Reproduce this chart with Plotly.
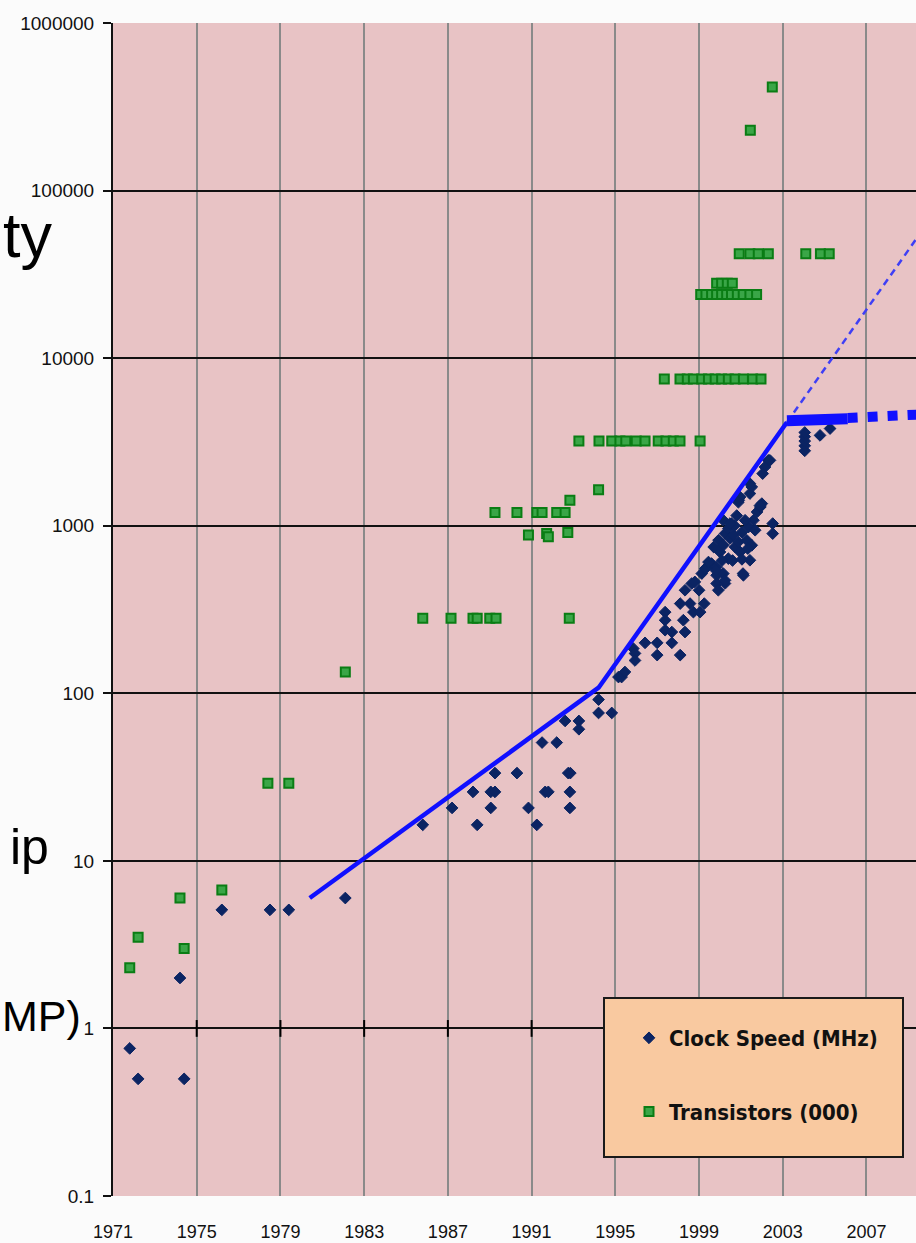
import plotly.graph_objects as go

# ---------------- data ----------------
x_tick_years = [1971, 1975, 1979, 1983, 1987, 1991, 1995, 1999, 2003, 2007]
y_tick_vals = [0.1, 1, 10, 100, 1000, 10000, 100000, 1000000]
y_tick_text = ["0.1", "1", "10", "100", "1000", "10000", "100000", "1000000"]

# Clock speed (MHz)
clock_early_year = [1971.8, 1972.2, 1974.4, 1974.2, 1976.2, 1978.5, 1979.4, 1982.1]
clock_early_mhz = [0.76, 0.5, 0.5, 2.0, 5.1, 5.1, 5.1, 6.0]

clock_mid_year = [1985.8, 1987.2, 1988.2, 1988.4, 1989.05, 1989.25, 1989.05, 1989.25,
                  1990.3, 1990.85, 1991.25, 1991.5, 1991.65, 1991.8, 1992.2, 1992.6,
                  1992.75, 1992.85, 1992.83, 1992.83, 1993.26, 1993.26, 1994.2, 1994.2,
                  1994.83]
clock_mid_mhz = [16.4, 20.7, 25.8, 16.4, 25.8, 25.8, 20.7, 33.4,
                 33.4, 20.7, 16.4, 50.8, 25.8, 25.8, 50.8, 68.4,
                 33.4, 33.4, 25.8, 20.7, 68.4, 61, 91.7, 76.3,
                 76.3]

clock_late_year = [1995.15, 1995.3, 1995.46, 1995.86, 1995.94, 1995.94, 1996.42, 1997.0,
                   1997.0, 1997.38, 1997.38, 1997.38, 1997.7, 1997.7, 1998.1, 1998.1,
                   1998.25, 1998.33, 1998.33, 1998.57, 1998.73, 1998.65, 1998.8, 1999.0,
                   1999.05, 1999.25, 1999.13, 1999.37, 1999.6, 1999.84, 1999.84, 2000.16,
                   1999.84, 1999.92, 2000.24, 1999.3, 1999.45, 1999.8, 1999.7, 1999.93,
                   2000.0, 2000.16, 2000.24, 2000.4, 2000.55, 2000.48, 2000.4, 2000.24,
                   2000.64, 2000.72, 2000.88, 2000.96, 2001.12, 2001.28, 2001.43, 2001.36,
                   2001.6, 2001.68, 2001.52, 2001.77, 2001.93, 2002.0, 2000.9, 2001.43,
                   2001.43, 2002.52, 2002.52, 2002.31, 2002.15, 2002.04, 2001.52, 2000.96,
                   2000.88, 2001.91, 2002.39, 2001.2, 2000.7, 2001.05, 2001.33, 2001.05,
                   2000.6, 2000.1, 2000.8, 2001.1, 2000.16, 2000.48]
clock_late_mhz = [125, 125, 134, 185, 173, 157, 200, 200,
                  169, 305, 273, 238, 232, 200, 169, 343,
                  273, 232, 412, 343, 305, 452, 462, 412,
                  305, 343, 518, 567, 594, 567, 506, 518,
                  452, 412, 452, 555, 607, 542, 746, 819,
                  697, 764, 897, 961, 1030, 838, 636, 472,
                  877, 746, 800, 697, 506, 819, 622, 982,
                  1078, 940, 764, 1208, 1294, 1355, 1419, 1556,
                  1784, 1030, 897, 2455, 2240, 2046, 1703, 1483,
                  1380, 1319, 2455, 1078, 1000, 915, 730, 630,
                  620, 620, 1150, 518, 1078, 1030]

clock_recent_year = [2004.05, 2004.05, 2004.05, 2004.05, 2004.05, 2004.78, 2005.26]
clock_recent_mhz = [2800, 3000, 3200, 3400, 3600, 3460, 3800]

# Transistors (000)
tr_year = [1971.8, 1972.2, 1974.2, 1974.4, 1976.2, 1978.4, 1979.4, 1982.1,
           1985.8, 1987.15, 1988.2, 1988.4, 1989.0, 1989.3, 1992.8,
           1989.25, 1990.3, 1991.25, 1991.5, 1992.2, 1992.6, 1992.83, 1994.2,
           1990.85, 1991.72, 1991.8, 1992.73,
           1993.26, 1994.22, 1994.83, 1995.22, 1995.5, 1996.0, 1996.42, 1997.05,
           1997.42, 1997.77, 1998.09, 1999.05,
           1997.34, 1998.09, 1998.44, 1998.73, 1999.13, 1999.45, 1999.77, 2000.08,
           2000.4, 2000.72, 2001.12, 2001.56, 2001.96,
           1999.08, 1999.33, 1999.6, 1999.84, 2000.08, 2000.32, 2000.55, 2000.83,
           2001.11, 2001.43, 2001.75,
           1999.84, 2000.08, 2000.35, 2000.59,
           2000.92, 2001.43, 2001.83, 2002.31, 2004.1, 2004.8, 2005.22,
           2001.45, 2002.5]
tr_thousands = [2.3, 3.5, 6.0, 3.0, 6.7, 29, 29, 134,
                280, 280, 280, 280, 280, 280, 280,
                1200, 1200, 1200, 1200, 1200, 1200, 1420, 1640,
                880, 900, 860, 910,
                3200, 3200, 3200, 3200, 3200, 3200, 3200, 3200,
                3200, 3200, 3200, 3200,
                7500, 7500, 7500, 7500, 7500, 7500, 7500, 7500,
                7500, 7500, 7500, 7500, 7500,
                24000, 24000, 24000, 24000, 24000, 24000, 24000, 24000,
                24000, 24000, 24000,
                28000, 28000, 28000, 28000,
                42000, 42000, 42000, 42000, 42000, 42000, 42000,
                229000, 415000]

# Clock-speed trend lines
trend_year = [1980.4, 1994.2, 2003.2]
trend_mhz = [6.0, 108, 4140]
flat_year = [2003.2, 2006.1]
flat_mhz = [4230, 4350]
flat_proj_year = [2006.1, 2009.4]
flat_proj_mhz = [4400, 4600]
exp_proj_year = [2003.2, 2009.4]
exp_proj_mhz = [4140, 51900]

clock_year = clock_early_year + clock_mid_year + clock_late_year + clock_recent_year
clock_mhz = clock_early_mhz + clock_mid_mhz + clock_late_mhz + clock_recent_mhz
assert len(clock_year) == len(clock_mhz), (len(clock_year), len(clock_mhz))
assert len(tr_year) == len(tr_thousands), (len(tr_year), len(tr_thousands))

# ---------------- styling ----------------
W, H = 916, 1243
ML, MR, MT, MB = 113, 0, 23, 47
tick_font = "Liberation Sans, Arial, sans-serif"
legend_font = "Liberation Sans Narrow, Arial Narrow, DejaVu Sans Condensed, DejaVu Sans, sans-serif"
slide_font = "Liberation Sans, Arial, sans-serif"
plot_w = W - ML - MR
plot_h = H - MT - MB


def px_x(p):
    return (p - ML) / plot_w


def px_y(p):
    return (H - MB - p) / plot_h


fig = go.Figure()

fig.add_trace(go.Scatter(
    x=tr_year, y=tr_thousands, mode="markers", name="Transistors (000)",
    legendrank=2, legendgroup="tr",
    marker=dict(symbol="square", size=9, color="#3aa647",
                line=dict(color="#0a7d14", width=2)),
))
fig.add_trace(go.Scatter(
    x=clock_year, y=clock_mhz, mode="markers", name="Clock Speed (MHz)",
    legendrank=1, legendgroup="clk",
    marker=dict(symbol="diamond", size=9, color="#0b2463",
                line=dict(color="#0b2463", width=1)),
))

line_blue = "#1010ff"
fig.add_trace(go.Scatter(x=exp_proj_year, y=exp_proj_mhz, mode="lines", showlegend=False,
                         line=dict(color="#3f3ff5", width=2.5, dash="7px,5px")))
fig.add_trace(go.Scatter(x=trend_year, y=trend_mhz, mode="lines", showlegend=False,
                         line=dict(color=line_blue, width=4.5)))
fig.add_trace(go.Scatter(x=flat_year, y=flat_mhz, mode="lines", showlegend=False,
                         line=dict(color=line_blue, width=11)))
fig.add_trace(go.Scatter(x=flat_proj_year, y=flat_proj_mhz, mode="lines", showlegend=False,
                         line=dict(color=line_blue, width=10, dash="10px,10px")))

# cross tick marks where the category axis crosses (at 1)
fig.add_trace(go.Scatter(x=x_tick_years[1:], y=[1] * (len(x_tick_years) - 1), mode="markers",
                         showlegend=False,
                         marker=dict(symbol="line-ns", size=12, line=dict(color="black", width=2))))

fig.update_xaxes(
    range=[1971, 1971 + plot_w / 20.93],
    tickvals=x_tick_years, ticktext=[str(v) for v in x_tick_years],
    showgrid=True, gridcolor="#8a8a8a", gridwidth=2,
    showline=False, zeroline=False, ticks="",
    ticklabelstandoff=23,
    tickfont=dict(family=tick_font, size=18, color="#111111"),
)
fig.update_yaxes(
    type="log", range=[-1, 6],
    tickvals=y_tick_vals, ticktext=y_tick_text,
    showgrid=True, gridcolor="#111111", gridwidth=2,
    showline=True, linecolor="#111111", linewidth=2,
    ticks="outside", ticklen=8, tickwidth=2, tickcolor="#111111",
    ticklabelstandoff=5,
    tickfont=dict(family=tick_font, size=19, color="#111111"),
    zeroline=False,
)

# legend box
fig.add_shape(type="rect", xref="paper", yref="paper",
              x0=px_x(604), x1=px_x(903), y0=px_y(1157), y1=px_y(998),
              fillcolor="#f9c9a0", line=dict(color="#1a1a1a", width=2), layer="above")

# slide text fragments at left
fig.add_annotation(text="ty", xref="paper", yref="paper", x=px_x(1), y=px_y(235),
                   xanchor="left", yanchor="middle", showarrow=False,
                   font=dict(family=slide_font, size=63, color="black"))
fig.add_annotation(text="ip", xref="paper", yref="paper", x=px_x(8), y=px_y(847),
                   xanchor="left", yanchor="middle", showarrow=False,
                   font=dict(family=slide_font, size=50, color="black"))
fig.add_annotation(text="MP)", xref="paper", yref="paper", x=px_x(0), y=px_y(1016),
                   xanchor="left", yanchor="middle", showarrow=False,
                   font=dict(family=slide_font, size=43, color="black"))

fig.update_layout(
    width=W, height=H,
    margin=dict(l=ML, r=MR, t=MT, b=MB, pad=0),
    paper_bgcolor="#fbfbfb",
    plot_bgcolor="#e8c3c5",
    hovermode=False,
    legend=dict(
        x=px_x(629), y=px_y(1017), xanchor="left", yanchor="top",
        bgcolor="rgba(0,0,0,0)", borderwidth=0,
        traceorder="grouped", tracegroupgap=42,
        font=dict(family=legend_font, size=22, color="#111111", weight="bold"),
    ),
)

fig.write_html("out.html")
